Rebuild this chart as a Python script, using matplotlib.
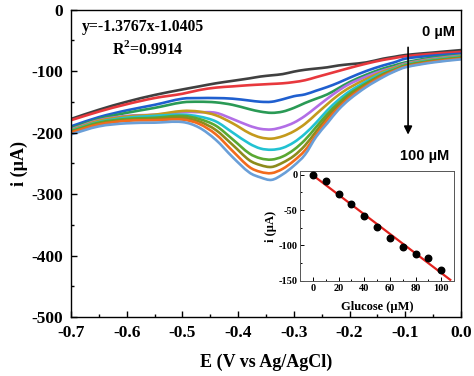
import matplotlib
matplotlib.use("Agg")
import matplotlib.pyplot as plt
from matplotlib.path import Path
from matplotlib.patches import PathPatch
from matplotlib.ticker import MultipleLocator

plt.rcParams["axes.unicode_minus"] = False
plt.rcParams["mathtext.fontset"] = "custom"
plt.rcParams["mathtext.rm"] = "Liberation Serif"
plt.rcParams["mathtext.bf"] = "Liberation Serif:bold"

# Potential samples (V vs Ag/AgCl)
potential = [-0.70, -0.65, -0.60, -0.55, -0.50, -0.47, -0.44, -0.41, -0.38, -0.36,
             -0.34, -0.32, -0.30, -0.28, -0.26, -0.24, -0.22, -0.20, -0.17, -0.14,
             -0.12, -0.10, -0.05, 0.00]

# Current (uA) for each glucose concentration
i_0 = [-178, -163, -150, -139, -130, -125, -120, -116, -112, -109,
       -107, -105, -101, -98, -96, -94, -91, -89, -86, -80,
       -77, -74, -70, -66]
i_10 = [-180, -166, -154, -144, -137, -131, -127, -125, -123, -122,
        -121, -120, -118, -115, -110, -105, -100, -95, -88, -82,
        -79, -76, -72, -69]
i_20 = [-190, -175, -164, -155, -145, -144, -144, -145, -148, -150,
        -150, -146, -141, -138, -132, -126, -119, -111, -100, -91,
        -86, -80, -75, -72]
i_30 = [-193, -178, -168, -160, -151, -150, -151, -155, -162, -166,
        -168, -166, -160, -152, -145, -138, -128, -118, -106, -96,
        -91, -86, -78, -74]
i_40 = [-195, -180, -173, -171, -167, -167, -168, -178, -189, -194,
        -195, -191, -184, -173, -159, -145, -132, -121, -109, -99,
        -94, -88, -80, -75]
i_50 = [-196, -181, -174, -171, -165, -166, -172, -185, -201, -208,
        -210, -206, -198, -186, -170, -154, -139, -127, -113, -101,
        -95, -89, -81, -76]
i_60 = [-197, -183, -176, -173, -171, -174, -182, -200, -218, -226,
        -228, -225, -216, -202, -184, -164, -147, -133, -117, -103,
        -97, -90, -82, -77]
i_70 = [-198, -184, -178, -176, -173, -178, -189, -211, -234, -242,
        -244, -239, -228, -212, -191, -170, -152, -137, -120, -105,
        -98, -91, -83, -78]
i_80 = [-199, -186, -180, -178, -176, -182, -196, -220, -245, -253,
        -256, -249, -238, -221, -198, -175, -156, -140, -122, -106,
        -99, -92, -84, -79]
i_90 = [-200, -187, -181, -180, -179, -186, -203, -230, -256, -264,
        -266, -259, -246, -229, -204, -180, -160, -143, -124, -108,
        -100, -93, -85, -80]
i_100 = [-203, -190, -185, -184, -183, -192, -212, -240, -265, -273,
         -277, -268, -254, -236, -207, -185, -163, -146, -126, -110,
         -101, -94, -86, -81]

curves = [i_0, i_10, i_20, i_30, i_40, i_50, i_60, i_70, i_80, i_90, i_100]
colors = ["#404040", "#e8383d", "#1f5fcf", "#2a9a55", "#b26ee6", "#c49a1c",
          "#22c2d2", "#5aa832", "#8d8b1c", "#f26b1d", "#6a9fd8"]

# Calibration inset
glucose = [0, 10, 20, 30, 40, 50, 60, 70, 80, 90, 100]
peak_current = [0, -9, -27, -42, -58, -74, -90, -102, -112, -118, -135]
fit_slope = -1.3767
fit_intercept = -1.0405
fit_x = [1, 107]

serif = "Liberation Serif"
sans = "Liberation Sans"


def smooth_path(xs, ys):
    """Bezier path through the points (like a spline connection in Origin)."""
    n = len(xs)
    slopes = []
    for k in range(n):
        a, b = max(k - 1, 0), min(k + 1, n - 1)
        slopes.append((ys[b] - ys[a]) / (xs[b] - xs[a]))
    verts = [(xs[0], ys[0])]
    codes = [Path.MOVETO]
    for k in range(n - 1):
        h = xs[k + 1] - xs[k]
        verts += [(xs[k] + h / 3, ys[k] + slopes[k] * h / 3),
                  (xs[k + 1] - h / 3, ys[k + 1] - slopes[k + 1] * h / 3),
                  (xs[k + 1], ys[k + 1])]
        codes += [Path.CURVE4] * 3
    return Path(verts, codes)


fig = plt.figure(figsize=(4.74, 3.76), dpi=100)
ax = fig.add_axes([0.1498, 0.1569, 0.8228, 0.8178])

for y, c in zip(curves, colors):
    ax.add_patch(PathPatch(smooth_path(potential, y), fill=False, edgecolor=c,
                           lw=1.9, capstyle="round", joinstyle="round"))

ax.set_xlim(-0.7, 0.0)
ax.set_ylim(-500, 0)
ax.xaxis.set_major_locator(MultipleLocator(0.1))
ax.xaxis.set_minor_locator(MultipleLocator(0.05))
ax.yaxis.set_major_locator(MultipleLocator(100))
ax.yaxis.set_minor_locator(MultipleLocator(50))
ax.tick_params(which="both", direction="in", top=False, right=False)
ax.tick_params(which="major", length=4, width=1.0, pad=6)
ax.tick_params(which="minor", length=2.5, width=1.0)
ax.set_xticks(ax.get_xticks())
ax.set_xticklabels([f"{v:.1f}" for v in ax.get_xticks()])
ax.set_xlim(-0.7, 0.0)
for lab in ax.get_xticklabels() + ax.get_yticklabels():
    lab.set_fontfamily(serif)
    lab.set_fontweight("bold")
    lab.set_fontsize(12.5)
for s in ax.spines.values():
    s.set_linewidth(1.0)

ax.set_xlabel("E (V vs Ag/AgCl)", fontfamily=serif, fontweight="bold",
              fontsize=13, labelpad=9)
ax.set_ylabel("i (\u00b5A)", fontfamily=serif, fontweight="bold",
              fontsize=13, labelpad=2)

ax.text(-0.571, -28, "y=-1.3767x-1.0405", fontfamily=serif, fontweight="bold",
        fontsize=11.3, ha="center", va="center")
ax.text(-0.562, -65, "R$^{\\mathbf{2}}$=0.9914", fontfamily=serif,
        fontweight="bold", fontsize=11.3, ha="center", va="center")
ax.text(-0.041, -37, "0 \u00b5M", fontfamily=sans, fontweight="bold",
        fontsize=10.5, ha="center", va="center")
ax.text(-0.066, -239, "100 \u00b5M", fontfamily=sans, fontweight="bold",
        fontsize=10.5, ha="center", va="center")
ax.annotate("", xy=(-0.095, -208), xytext=(-0.095, -57),
            arrowprops=dict(arrowstyle="-|>", color="black", lw=1.2,
                            mutation_scale=12))

# inset
ins = fig.add_axes([0.633, 0.2527, 0.325, 0.2926])
ins.scatter(glucose, peak_current, s=22, color="black", zorder=3)
ins.plot(fit_x, [fit_slope * x + fit_intercept for x in fit_x],
         color="#e0201c", lw=1.6, zorder=2)
ins.set_xlim(-10, 110)
ins.set_ylim(-150, 5)
ins.xaxis.set_major_locator(MultipleLocator(20))
ins.yaxis.set_major_locator(MultipleLocator(50))
ins.yaxis.set_minor_locator(MultipleLocator(25))
ins.xaxis.set_minor_locator(MultipleLocator(10))
ins.tick_params(which="both", direction="in", top=False, right=False,
                width=0.7)
ins.tick_params(which="major", length=3, pad=2)
ins.tick_params(which="minor", length=1.5)
for lab in ins.get_xticklabels() + ins.get_yticklabels():
    lab.set_fontfamily(serif)
    lab.set_fontweight("bold")
    lab.set_fontsize(7.5)
for s in ins.spines.values():
    s.set_linewidth(0.7)
    s.set_color("#555555")
ins.set_xlabel("Glucose (\u00b5M)", fontfamily=serif, fontweight="bold",
               fontsize=9, labelpad=6)
ins.set_ylabel("i (\u00b5A)", fontfamily=serif, fontweight="bold",
               fontsize=9, labelpad=1)

fig.savefig("out.png", dpi=100)
